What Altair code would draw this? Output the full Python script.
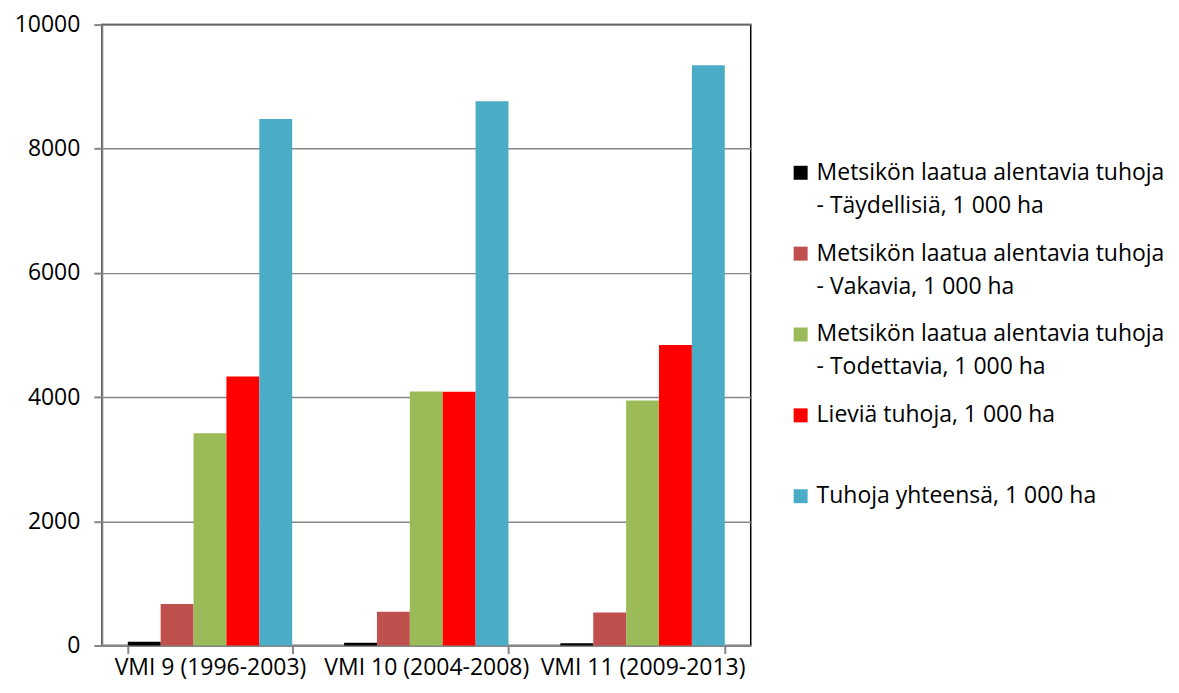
import altair as alt
import pandas as pd

periods = ["VMI 9 (1996-2003)", "VMI 10 (2004-2008)", "VMI 11 (2009-2013)"]
series = [
    "Metsikön laatua alentavia tuhoja - Täydellisiä, 1 000 ha",
    "Metsikön laatua alentavia tuhoja - Vakavia, 1 000 ha",
    "Metsikön laatua alentavia tuhoja - Todettavia, 1 000 ha",
    "Lieviä tuhoja, 1 000 ha",
    "Tuhoja yhteensä, 1 000 ha",
]
legend_line1 = [
    "Metsikön laatua alentavia tuhoja",
    "Metsikön laatua alentavia tuhoja",
    "Metsikön laatua alentavia tuhoja",
    "Lieviä tuhoja, 1 000 ha",
    "Tuhoja yhteensä, 1 000 ha",
]
legend_line2 = [
    "- Täydellisiä, 1 000 ha",
    "- Vakavia, 1 000 ha",
    "- Todettavia, 1 000 ha",
    "",
    "",
]
colors = ["#000000", "#C0504D", "#9BBB59", "#FF0000", "#4BACC6"]

taydellisia = [60, 45, 35]
vakavia = [670, 545, 530]
todettavia = [3420, 4090, 3945]
lievia = [4330, 4085, 4840]
yhteensa = [8480, 8765, 9345]

values = [taydellisia, vakavia, todettavia, lievia, yhteensa]
rows = []
for si, s in enumerate(series):
    for pi, p in enumerate(periods):
        rows.append({"period": p, "series": s, "order": si, "value": values[si][pi]})
df = pd.DataFrame(rows)

FONT = "Open Sans"
FS = 23
LFS = 23
H = 622

bars = alt.Chart(df).mark_bar().encode(
    x=alt.X("period:N", sort=periods, title=None,
            scale=alt.Scale(paddingInner=0.24, paddingOuter=0.12),
            axis=alt.Axis(labelAngle=0, tickBand="extent", labelOverlap=False,
                          labelLimit=400, labelPadding=3, tickSize=8,
                          domainColor="#868686", domainWidth=2,
                          tickColor="#868686", tickWidth=2, grid=False)),
    xOffset=alt.XOffset("series:N", sort=series),
    y=alt.Y("value:Q", title=None,
            scale=alt.Scale(domain=[0, 10000], nice=False),
            axis=alt.Axis(values=[0, 2000, 4000, 6000, 8000, 10000], format="d",
                          tickSize=8, labelPadding=14,
                          domainColor="#868686", domainWidth=2,
                          tickColor="#868686", tickWidth=2,
                          gridColor="#868686", gridWidth=1.5)),
    color=alt.Color("series:N", sort=series,
                    scale=alt.Scale(domain=series, range=colors), legend=None),
).properties(width=650, height=H,
             view=alt.ViewBackground(stroke="#000000", strokeWidth=1.5))

leg = pd.DataFrame({"idx": list(range(5)), "l1": legend_line1,
                    "l2": legend_line2, "series": series})
ysc = alt.Y("idx:Q", axis=None,
            scale=alt.Scale(domain=[-1.833, 5.846], reverse=True, nice=False, zero=False))
sq = alt.Chart(leg).mark_square(size=196, opacity=1).encode(
    x=alt.value(49), y=ysc,
    color=alt.Color("series:N", scale=alt.Scale(domain=series, range=colors), legend=None),
)
t1 = alt.Chart(leg).mark_text(align="left", baseline="middle", font=FONT,
                              fontSize=LFS, color="#000000").encode(
    x=alt.value(65), y=ysc, text="l1:N")
t2 = alt.Chart(leg).mark_text(align="left", baseline="middle", font=FONT,
                              fontSize=LFS, color="#000000", dy=33).encode(
    x=alt.value(65), y=ysc, text="l2:N")
legend = alt.layer(sq, t1, t2).properties(
    width=420, height=H, view=alt.ViewBackground(stroke=None))

chart = alt.hconcat(bars, legend, spacing=0).configure_axis(
    labelFont=FONT, labelFontSize=FS, labelColor="#000000"
).properties(padding={"left": 5, "top": 4, "right": 0, "bottom": 5})

chart.save("out.html", embed_options={"renderer": "svg", "actions": False})
